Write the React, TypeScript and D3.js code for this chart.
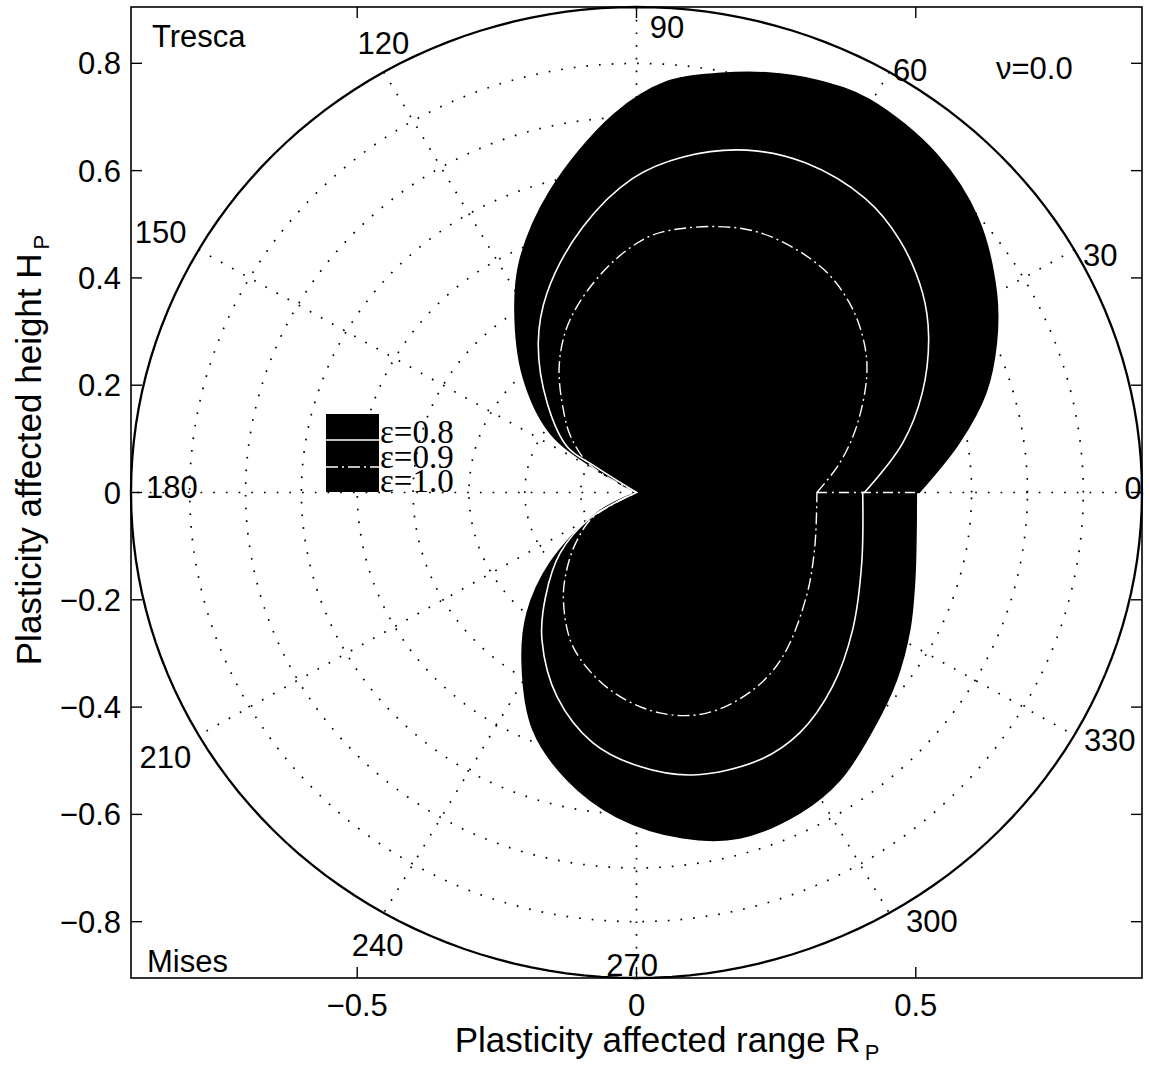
import React from "react";
import * as d3 from "d3";

const W = 1150;
const H = 1068;
const RMAX = 0.905;

const ringValues = [0.1, 0.2, 0.3, 0.4, 0.5, 0.6, 0.7, 0.8];
const spokeAngles = [0, 30, 60, 90, 120, 150];
const xTicks = [-0.5, 0, 0.5];
const yTicks = [-0.8, -0.6, -0.4, -0.2, 0, 0.2, 0.4, 0.6, 0.8];

// angle labels: text, placement angle (deg), placement radius
const angleLabels: [string, number, number][] = [
  ["0", 0.5, 0.889],
  ["30", 28.1, 0.941],
  ["60", 58.1, 0.927],
  ["90", 86.4, 0.869],
  ["120", 118.4, 0.953],
  ["150", 150.3, 0.981],
  ["180", 179.3, 0.832],
  ["210", 210.3, 0.977],
  ["240", 241.2, 0.962],
  ["270", 269.5, 0.881],
  ["300", 303.5, 0.958],
  ["330", 331.4, 0.965],
];

const legendLabels = ["ε=0.8", "ε=0.9", "ε=1.0"];

// Upper half (Tresca): [theta deg, r]
const trescaOuter: [number, number][] = [
  [0, 0.506], [9.1, 0.585], [16.6, 0.653], [23.4, 0.702], [30.0, 0.744],
  [39.9, 0.797], [49.4, 0.828], [60.4, 0.843], [67.0, 0.834], [73.5, 0.816],
  [79.0, 0.796], [85.9, 0.768], [93.4, 0.705], [105.5, 0.582], [115.7, 0.481],
  [122.6, 0.404], [133.3, 0.296], [144.4, 0.19], [149.4, 0.082],
];
const trescaMiddle: [number, number][] = [
  [0, 0.408], [10.9, 0.485], [19.9, 0.544], [29.0, 0.598], [36.0, 0.633],
  [45.0, 0.666], [53.2, 0.684], [63.7, 0.685], [72.8, 0.668], [82.4, 0.631],
  [90.6, 0.586], [101.0, 0.504], [113.3, 0.405], [122.2, 0.33], [133.8, 0.231],
  [145.6, 0.15], [146.8, 0.093],
];
const trescaInner: [number, number][] = [
  [0, 0.323], [8.6, 0.368], [17.2, 0.412], [27.6, 0.465], [34.4, 0.494],
  [42.9, 0.52], [52.5, 0.535], [67.3, 0.53], [84.5, 0.488], [92.2, 0.452],
  [102.2, 0.392], [111.9, 0.333], [120.6, 0.272], [130.4, 0.202], [138.7, 0.156],
  [148.4, 0.098],
];

// Lower half (Mises): [theta deg, r]
const misesOuter: [number, number][] = [
  [208.2, 0.08], [220.3, 0.203], [228.9, 0.298], [237.2, 0.378], [247.3, 0.48],
  [257.0, 0.55], [266.7, 0.606], [277.3, 0.649], [286.0, 0.67], [296.1, 0.665],
  [304.2, 0.648], [313.7, 0.612], [323.1, 0.582], [332.4, 0.552], [341.9, 0.524],
  [360, 0.501],
];
const misesMiddle: [number, number][] = [
  [210, 0.096], [219.5, 0.177], [230.1, 0.254], [238.4, 0.323], [249.6, 0.407],
  [260.5, 0.473], [270.7, 0.511], [280.8, 0.536], [293.9, 0.545], [303.1, 0.535],
  [314.1, 0.504], [326.5, 0.464], [342.0, 0.424], [360, 0.405],
];
const misesInner: [number, number][] = [
  [210.5, 0.09], [220, 0.139], [228.3, 0.186], [236.8, 0.239], [248.6, 0.31],
  [262.7, 0.371], [275.8, 0.413], [287.0, 0.43], [299.5, 0.423], [310.4, 0.403],
  [327.3, 0.361], [342.3, 0.335], [360, 0.323],
];

const FONT = "'Liberation Sans', Arial, Helvetica, sans-serif";
const SERIF = "'Liberation Serif', 'Times New Roman', serif";

export default function App() {
  const left = 131, right = 1142, top = 7, bottom = 978;
  const x = d3.scaleLinear().domain([-RMAX, RMAX]).range([left, right]);
  const y = d3.scaleLinear().domain([-RMAX, RMAX]).range([bottom, top]);
  const rad = (d: number) => (d * Math.PI) / 180;
  const toXY = (p: [number, number]): [number, number] => [
    x(p[1] * Math.cos(rad(p[0]))),
    y(p[1] * Math.sin(rad(p[0]))),
  ];
  const lineGen = d3.line().curve(d3.curveCatmullRom.alpha(0.5));
  const origin: [number, number] = [x(0), y(0)];
  const shapePath = (upper: [number, number][], lower: [number, number][]) => {
    const a = lineGen([...upper.map(toXY), origin]) as string;
    const b = lineGen([origin, ...lower.map(toXY)]) as string;
    return a + b.replace(/^M/, "L") + "Z";
  };
  const circlePath = (r: number) => {
    const pts: [number, number][] = d3.range(0, 361, 2).map((a) => [a, r] as [number, number]);
    return (d3.line()(pts.map(toXY)) as string) + "Z";
  };

  const outerD = shapePath(trescaOuter, misesOuter);
  const middleD = shapePath(trescaMiddle, misesMiddle);
  const innerD = shapePath(trescaInner, misesInner);

  const dotted = { stroke: "#000", strokeWidth: 1.7, strokeDasharray: "1.7,11", fill: "none" };
  const fmt = (v: number) => (v === 0 ? "0" : (v < 0 ? "\u2212" : "") + Math.abs(v).toFixed(1));

  return (
    <svg width={W} height={H} style={{ display: "block", position: "absolute", left: 0, top: 0, background: "#fff" }}>
      <rect x={0} y={0} width={W} height={H} fill="#fff" />
      {/* grid rings */}
      {ringValues.map((r) => (
        <path key={"ring" + r} d={circlePath(r)} {...dotted} />
      ))}
      {/* spokes */}
      {spokeAngles.map((a) => {
        const p1 = toXY([a, RMAX]);
        const p2 = toXY([a + 180, RMAX]);
        return <line key={"sp" + a} x1={p1[0]} y1={p1[1]} x2={p2[0]} y2={p2[1]} {...dotted} />;
      })}
      {/* filled shapes */}
      <path d={outerD} fill="#000" stroke="#000" strokeWidth={1.5} />
      <path d={middleD} fill="#000" stroke="none" />
      <path d={innerD} fill="#000" stroke="none" />
      <path d={middleD} fill="none" stroke="#fff" strokeWidth={1.6} />
      <path d={innerD} fill="none" stroke="#fff" strokeWidth={1.4} strokeDasharray="12,4,2,4" />
      <line
        x1={x(trescaInner[0][1])}
        y1={y(0)}
        x2={x(trescaOuter[0][1])}
        y2={y(0)}
        stroke="#fff"
        strokeWidth={1.4}
        strokeDasharray="10,5,2,5"
      />
      {/* outer circle */}
      <path d={circlePath(RMAX)} fill="none" stroke="#000" strokeWidth={2.3} />
      {/* angle labels */}
      {angleLabels.map(([t, a, r]) => {
        const p = toXY([a, r]);
        return (
          <text key={"al" + t} x={p[0]} y={p[1] + 11} textAnchor="middle" fontFamily={FONT} fontSize={31} fill="#000">
            {t}
          </text>
        );
      })}
      {/* axes box */}
      <rect x={left} y={top} width={right - left} height={bottom - top} fill="none" stroke="#000" strokeWidth={1.6} />
      {yTicks.map((v) => (
        <g key={"yt" + v}>
          <line x1={left} x2={left + 11} y1={y(v)} y2={y(v)} stroke="#000" strokeWidth={1.4} />
          <line x1={right} x2={right - 11} y1={y(v)} y2={y(v)} stroke="#000" strokeWidth={1.4} />
          <text x={left - 10} y={y(v) + 11} textAnchor="end" fontFamily={FONT} fontSize={31} fill="#000">
            {fmt(v)}
          </text>
        </g>
      ))}
      {xTicks.map((v) => (
        <g key={"xt" + v}>
          <line x1={x(v)} x2={x(v)} y1={bottom} y2={bottom - 11} stroke="#000" strokeWidth={1.4} />
          <line x1={x(v)} x2={x(v)} y1={top} y2={top + 11} stroke="#000" strokeWidth={1.4} />
          <text x={x(v)} y={bottom + 38} textAnchor="middle" fontFamily={FONT} fontSize={31} fill="#000">
            {fmt(v)}
          </text>
        </g>
      ))}
      {/* annotations */}
      <text x={152} y={47} fontFamily={FONT} fontSize={31} fill="#000">Tresca</text>
      <text x={147} y={972} fontFamily={FONT} fontSize={31} fill="#000">Mises</text>
      <text x={996} y={79} fontFamily={FONT} fontSize={31} fill="#000">ν=0.0</text>
      {/* legend */}
      <rect x={326} y={414} width={53} height={78} fill="#000" />
      <line x1={326} x2={379} y1={440} y2={440} stroke="#fff" strokeWidth={1.6} />
      <line x1={326} x2={379} y1={467} y2={467} stroke="#fff" strokeWidth={1.4} strokeDasharray="12,4,2,4" />
      {legendLabels.map((t, i) => (
        <text key={t} x={380} y={443 + i * 24.5} fontFamily={SERIF} fontSize={33} fill="#000">
          {t}
        </text>
      ))}
      {/* axis labels */}
      <text x={667} y={1052} textAnchor="middle" fontFamily={FONT} fontSize={35} fill="#000">
        Plasticity affected range R
        <tspan fontSize={22} dy={8} dx={4}>P</tspan>
      </text>
      <text
        transform={`translate(41,450) rotate(-90)`}
        textAnchor="middle"
        fontFamily={FONT}
        fontSize={35}
        fill="#000"
      >
        {"Plasticity affected height  H"}
        <tspan fontSize={22} dy={8} dx={4}>P</tspan>
      </text>
    </svg>
  );
}
